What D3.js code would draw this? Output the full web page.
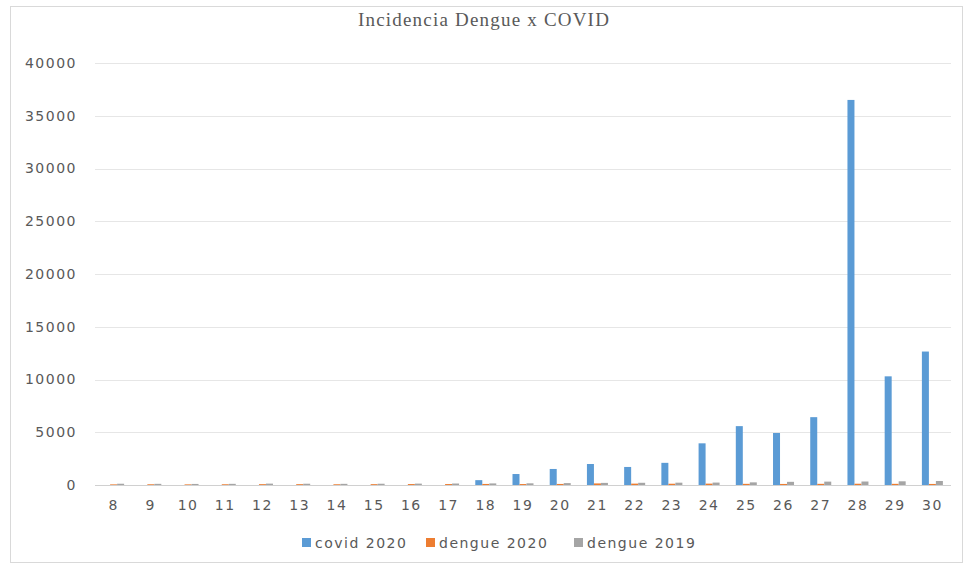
<!DOCTYPE html>
<html>
<head>
<meta charset="utf-8">
<script src="https://cdn.jsdelivr.net/npm/d3@7"></script>
<style>
  body { margin: 0; background: #fff; }
  text { font-family: "DejaVu Sans", sans-serif; fill: #595959; }
</style>
</head>
<body>
<svg width="967" height="565"></svg>
<script>
// semanas epidemiologicas
var weeks = ["8","9","10","11","12","13","14","15","16","17","18","19","20","21","22","23","24","25","26","27","28","29","30"];
var covid2020 = [0,0,0,0,0,0,0,0,0,0,460,1040,1520,1990,1710,2100,3950,5580,4930,6430,36500,10300,12650];
var dengue2020 = [60,70,60,70,80,80,70,80,90,90,100,90,100,150,130,120,130,110,100,110,120,110,100];
var dengue2019 = [120,110,100,110,130,120,110,120,130,140,150,160,180,200,210,220,230,250,300,320,330,350,380];
var yTicks = [0,5000,10000,15000,20000,25000,30000,35000,40000];
var seriesNames = ["covid 2020","dengue 2020","dengue 2019"];
var colors = ["#5B9BD5","#ED7D31","#A5A5A5"];

var svg = d3.select("svg"),
    margin = {top: 63, right: 16, bottom: 80, left: 95},
    width = +svg.attr("width") - margin.left - margin.right,
    height = +svg.attr("height") - margin.top - margin.bottom;

// marco del grafico
svg.append("rect")
    .attr("x", 10.5).attr("y", 6.5)
    .attr("width", 952).attr("height", 556)
    .attr("fill", "none").attr("stroke", "#d9d9d9");

var g = svg.append("g").attr("transform", "translate(" + margin.left + "," + margin.top + ")");

var x = d3.scaleBand().domain(weeks).range([0, width]);
var x1 = d3.scaleBand().domain([0,1,2]).range([-10.5, 10.5]);
var y = d3.scaleLinear().domain([0, 40000]).range([height, 0]);

// grid
g.selectAll(".grid")
  .data(yTicks)
  .enter().append("line")
    .attr("x1", 0).attr("x2", width)
    .attr("y1", function(d) { return Math.round(y(d)) + 0.5; })
    .attr("y2", function(d) { return Math.round(y(d)) + 0.5; })
    .attr("stroke", function(d) { return d === 0 ? "#d0d0d0" : "#e6e6e6"; });

var yAxis = g.append("g").call(d3.axisLeft(y).tickValues(yTicks).tickSize(0).tickPadding(18).tickFormat(d3.format("d")));
yAxis.select(".domain").remove();
yAxis.selectAll("text").style("font-size", "14px").style("letter-spacing", "1.5px").attr("fill", "#595959");

var xAxis = g.append("g").attr("transform", "translate(0," + height + ")")
    .call(d3.axisBottom(x).tickSize(0).tickPadding(15));
xAxis.select(".domain").remove();
xAxis.selectAll("text").style("font-size", "14px").style("letter-spacing", "1.5px").attr("fill", "#595959");

var series = [covid2020, dengue2020, dengue2019];
series.forEach(function(vals, si) {
  g.selectAll(".bar" + si)
    .data(vals)
    .enter().append("rect")
      .attr("x", function(d, i) { return x(weeks[i]) + x.bandwidth() / 2 + x1(si); })
      .attr("width", x1.bandwidth())
      .attr("y", function(d) { return y(d); })
      .attr("height", function(d) { return height - y(d); })
      .attr("fill", colors[si]);
});

// titulo
svg.append("text")
    .attr("x", 484).attr("y", 26)
    .attr("text-anchor", "middle")
    .style("font-family", "'Liberation Serif', serif")
    .style("font-size", "19px")
    .style("letter-spacing", "1.2px")
    .text("Incidencia Dengue x COVID");

// leyenda
var legX = [302, 426, 574];
var leg = svg.selectAll(".leg").data(seriesNames).enter().append("g")
    .attr("transform", function(d, i) { return "translate(" + legX[i] + ",543)"; });
leg.append("rect").attr("x", 0).attr("y", -5).attr("width", 9).attr("height", 9)
    .attr("fill", function(d, i) { return colors[i]; });
leg.append("text").attr("x", 13).attr("y", 5)
    .style("font-size", "14px").style("letter-spacing", "1.5px")
    .text(function(d) { return d; });
</script>
</body>
</html>
